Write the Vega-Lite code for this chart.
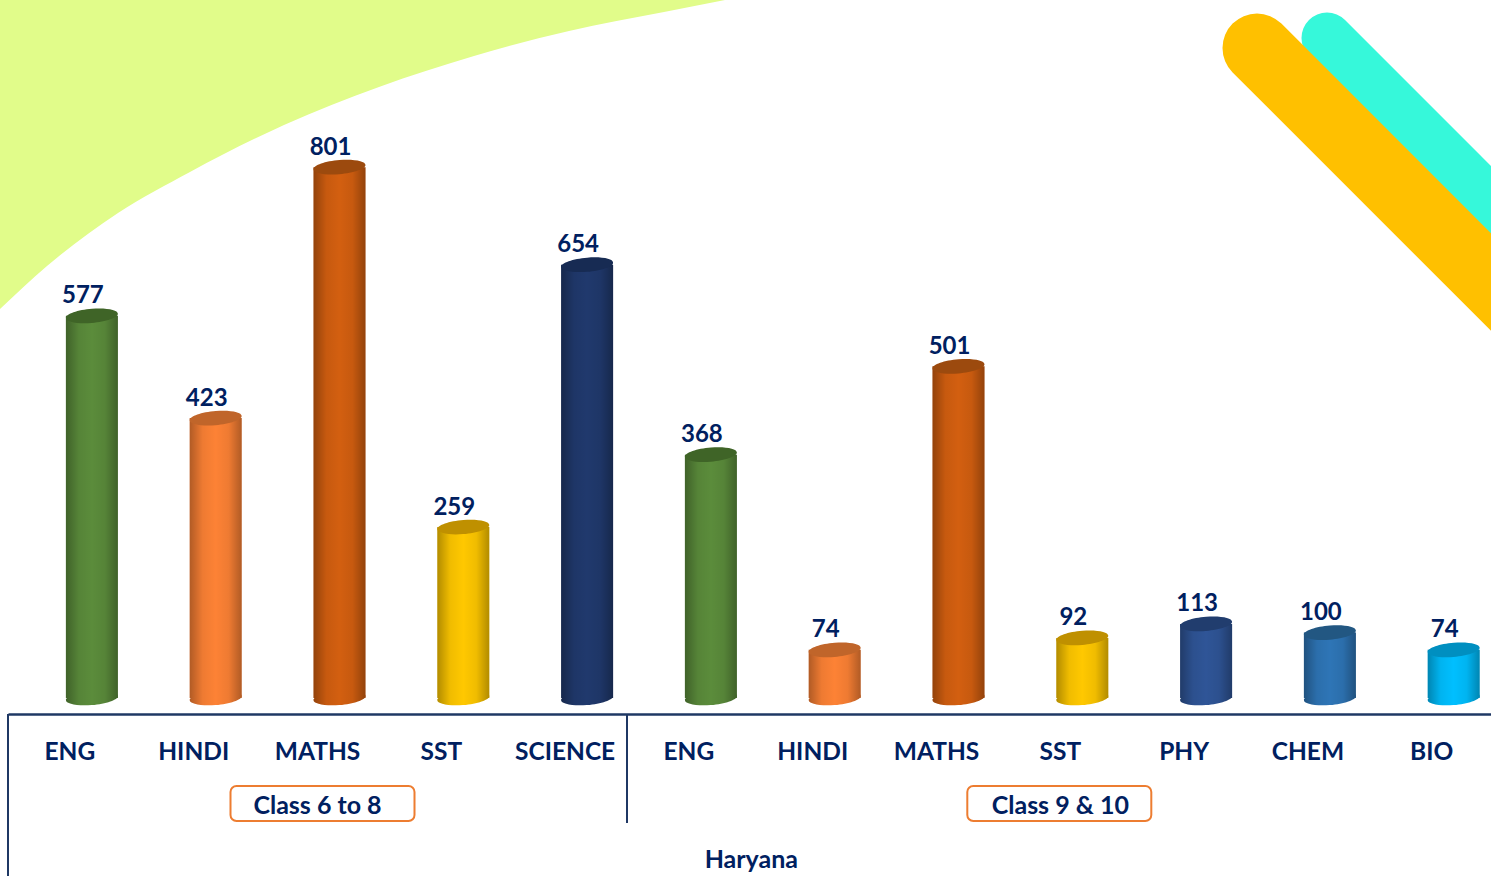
{
"$schema":"https://vega.github.io/schema/vega-lite/v6.json",
"width":1491,"height":876,
"autosize":"none",
"padding":0,
"background":"white",
"config":{"view":{"stroke":null},"font":"Lato"},
"datasets":{
"bars":[
{"cat":"6|ENG","kind":"green","score":577},
{"cat":"6|HINDI","kind":"orange","score":423},
{"cat":"6|MATHS","kind":"rust","score":801},
{"cat":"6|SST","kind":"yellow","score":259},
{"cat":"6|SCIENCE","kind":"navy","score":654},
{"cat":"9|ENG","kind":"green","score":368},
{"cat":"9|HINDI","kind":"orange","score":74},
{"cat":"9|MATHS","kind":"rust","score":501},
{"cat":"9|SST","kind":"yellow","score":92},
{"cat":"9|PHY","kind":"royal","score":113},
{"cat":"9|CHEM","kind":"steel","score":100},
{"cat":"9|BIO","kind":"sky","score":74}
],
"frame":[
{"cat":"6|ENG","from":-22.6,"to":-266.6},
{"cat":"9|ENG","from":-22.6,"to":-186.7}
],
"curve":[
{"px":0,"py":309},{"px":47,"py":266},{"px":118,"py":213},{"px":190,"py":172},{"px":284,"py":125},{"px":379,"py":87},{"px":474,"py":56},{"px":569,"py":31},{"px":664,"py":12},{"px":725,"py":0}
],
"teal":[{"px":1327,"py":38},{"px":1800,"py":511}],
"amber":[{"px":1257,"py":48},{"px":1800,"py":591}]
},
"resolve":{"scale":{"x":"independent","y":"independent"}},
"layer":[
{"layer":[
{"data":{"name":"curve"},"mark":{"type":"area","color":"#e1fc8a","interpolate":"monotone"},
"encoding":{"x":{"field":"px","type":"quantitative","scale":{"domain":[0,1491],"nice":false},"axis":null},
"y":{"field":"py","type":"quantitative","scale":{"domain":[876,0],"nice":false},"axis":null,"stack":null},"y2":{"datum":0}}},
{"data":{"name":"teal"},"mark":{"type":"line","color":"#36f8da","strokeWidth":51,"strokeCap":"round","clip":true},
"encoding":{"x":{"field":"px","type":"quantitative","scale":{"domain":[0,1491],"nice":false}},"y":{"field":"py","type":"quantitative","scale":{"domain":[876,0],"nice":false}}}},
{"data":{"name":"amber"},"mark":{"type":"line","color":"#ffc000","strokeWidth":69,"strokeCap":"round","clip":true},
"encoding":{"x":{"field":"px","type":"quantitative","scale":{"domain":[0,1491],"nice":false}},"y":{"field":"py","type":"quantitative","scale":{"domain":[876,0],"nice":false}}}}
]},
{"resolve":{"scale":{"fill":"independent"}},
"layer":[
{"data":{"name":"frame"},"mark":{"type":"rule","color":"#1f3864","strokeWidth":2},
"encoding":{
"x":{"field":"cat","type":"nominal","bandPosition":0,
"scale":{"domain":["6|ENG","6|HINDI","6|MATHS","6|SST","6|SCIENCE","9|ENG","9|HINDI","9|MATHS","9|SST","9|PHY","9|CHEM","9|BIO"],"range":[8,1493.6],"paddingInner":0,"paddingOuter":0},
"axis":{"orient":"bottom","offset":-162,"title":"Haryana","titleFontSize":25,"titleFontWeight":"bold","titleColor":"#002060","titlePadding":84,"labelFontSize":24.5,"labelFontWeight":"bold","labelColor":"#002060","labelPadding":26,"labelAngle":0,"labelOverlap":false,"labelExpr":"split(datum.value,'|')[1]","ticks":false,"grid":false,"domainColor":"#1f3864","domainWidth":2.5}},
"y":{"field":"from","type":"quantitative","scale":{"domain":[-266.6,1052.7],"nice":false,"zero":false},"axis":null},
"y2":{"field":"to"}}},
{"data":{"name":"bars"},"mark":{"type":"point","filled":true,"opacity":1,"xOffset":22,"shape":"M-1,0.08A1,0.27,-5,1,1,1,-0.08A1,0.27,-5,1,1,-1,0.08Z","size":2704},
"encoding":{"x":{"field":"cat","type":"nominal"},"y":{"datum":1.5,"type":"quantitative","scale":{"domain":[-266.6,1052.7],"nice":false,"zero":false}},
"fill":{"field":"kind","type":"nominal","legend":null,"scale":{"domain":["green","orange","rust","yellow","navy","royal","steel","sky"],"range":["#5b8c3b","#fd8235","#d35f10","#ffc800","#20396d","#2f5597","#2e75b6","#00bfff"]}}}},
{"data":{"name":"bars"},"mark":{"type":"point","filled":true,"opacity":1,"xOffset":22,"shape":"M-1,0.08A1,0.27,-5,1,1,1,-0.08A1,0.27,-5,1,1,-1,0.08Z","size":2704,
"fill":{"gradient":"linear","x1":0,"x2":1,"y1":0,"y2":0,"stops":[{"offset":0,"color":"rgba(0,0,0,0.3)"},{"offset":0.25,"color":"rgba(0,0,0,0.06)"},{"offset":0.5,"color":"rgba(0,0,0,0)"},{"offset":0.75,"color":"rgba(0,0,0,0.06)"},{"offset":1,"color":"rgba(0,0,0,0.3)"}]}},
"encoding":{"x":{"field":"cat","type":"nominal"},"y":{"datum":1.5,"type":"quantitative","scale":{"domain":[-266.6,1052.7],"nice":false,"zero":false}}}},
{"data":{"name":"bars"},"mark":{"type":"bar","size":52,"xOffset":22},
"encoding":{"x":{"field":"cat","type":"nominal"},"y":{"field":"score","type":"quantitative","stack":null,"scale":{"domain":[-266.6,1052.7],"nice":false,"zero":false}},"y2":{"datum":1.5},
"fill":{"field":"kind","type":"nominal","legend":null,"scale":{"domain":["green","orange","rust","yellow","navy","royal","steel","sky"],"range":["#5b8c3b","#fd8235","#d35f10","#ffc800","#20396d","#2f5597","#2e75b6","#00bfff"]}}}},
{"data":{"name":"bars"},"mark":{"type":"bar","size":52,"xOffset":22,
"fill":{"gradient":"linear","x1":0,"x2":1,"y1":0,"y2":0,"stops":[{"offset":0,"color":"rgba(0,0,0,0.3)"},{"offset":0.25,"color":"rgba(0,0,0,0.06)"},{"offset":0.5,"color":"rgba(0,0,0,0)"},{"offset":0.75,"color":"rgba(0,0,0,0.06)"},{"offset":1,"color":"rgba(0,0,0,0.3)"}]}},
"encoding":{"x":{"field":"cat","type":"nominal"},"y":{"field":"score","type":"quantitative","stack":null,"scale":{"domain":[-266.6,1052.7],"nice":false,"zero":false}},"y2":{"datum":1.5}}},
{"data":{"name":"bars"},"mark":{"type":"point","filled":true,"opacity":1,"xOffset":22,"shape":"M-1,0.08A1,0.27,-5,1,1,1,-0.08A1,0.27,-5,1,1,-1,0.08Z","size":2704},
"encoding":{"x":{"field":"cat","type":"nominal"},"y":{"field":"score","type":"quantitative","scale":{"domain":[-266.6,1052.7],"nice":false,"zero":false}},
"fill":{"field":"kind","type":"nominal","legend":null,"scale":{"domain":["green","orange","rust","yellow","navy","royal","steel","sky"],"range":["#3f6427","#c0652a","#9c4a0e","#bf9000","#172b53","#213d6e","#225782","#008fc0"]}}}},
{"data":{"name":"bars"},"mark":{"type":"text","font":"Lato","fontWeight":"bold","fontSize":24,"color":"#002060","xOffset":13,"dy":-19.5,"baseline":"middle"},
"encoding":{"x":{"field":"cat","type":"nominal"},"y":{"field":"score","type":"quantitative","scale":{"domain":[-266.6,1052.7],"nice":false,"zero":false}},"text":{"field":"score","type":"quantitative"}}},
{"data":{"values":[{"cat":"6|MATHS","lo":-131,"hi":-183.7}]},"mark":{"type":"bar","size":184,"xOffset":5,"fill":"white","stroke":"#ed7d31","strokeWidth":2,"cornerRadius":6},
"encoding":{"x":{"field":"cat","type":"nominal"},"y":{"field":"lo","type":"quantitative","scale":{"domain":[-266.6,1052.7],"nice":false,"zero":false}},"y2":{"field":"hi"}}},
{"data":{"values":[{"cat":"9|SST","lo":-131,"hi":-183.7}]},"mark":{"type":"bar","size":184,"xOffset":-1,"fill":"white","stroke":"#ed7d31","strokeWidth":2,"cornerRadius":6},
"encoding":{"x":{"field":"cat","type":"nominal"},"y":{"field":"lo","type":"quantitative","scale":{"domain":[-266.6,1052.7],"nice":false,"zero":false}},"y2":{"field":"hi"}}},
{"data":{"values":[{"cat":"6|MATHS","pos":-161,"group":"Class 6 to 8"},{"cat":"9|SST","pos":-161,"group":"Class 9 & 10"}]},"mark":{"type":"text","font":"Lato","fontWeight":"bold","fontSize":25,"color":"#002060","baseline":"middle"},
"encoding":{"x":{"field":"cat","type":"nominal"},"y":{"field":"pos","type":"quantitative","scale":{"domain":[-266.6,1052.7],"nice":false,"zero":false}},"text":{"field":"group","type":"nominal"}}}
]}
]
}
